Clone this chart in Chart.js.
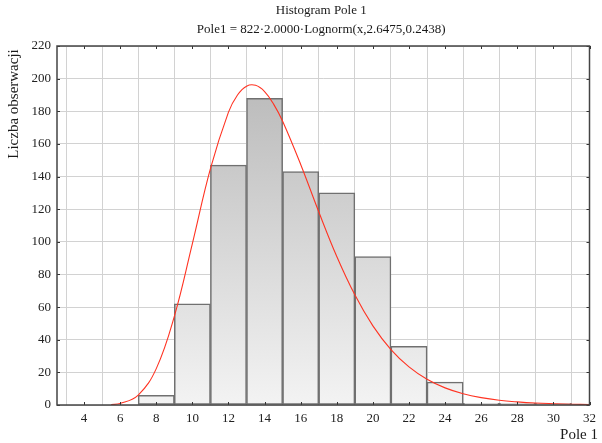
<!DOCTYPE html>
<html>
<head>
<meta charset="utf-8">
<script src="https://cdn.jsdelivr.net/npm/chart.js@4/dist/chart.umd.min.js"></script>
<style>
  html, body { margin: 0; padding: 0; background: #ffffff; }
  #wrap { width: 602px; height: 443px; position: relative; }
</style>
</head>
<body>
<div id="wrap"><canvas id="c" width="602" height="443"></canvas></div>
<script>
// Histogram bins (centres, width 2) and observed counts
const binCenters = [8, 10, 12, 14, 16, 18, 20, 22, 24, 26, 28, 30];
const binCounts  = [6, 62, 147, 188, 143, 130, 91, 36, 14, 1, 1, 1];

// Fitted log-normal curve, sampled along the x axis
const curveX = [5.5, 6, 7, 8, 9, 10, 11, 12, 12.5, 13, 13.5, 14, 14.5, 15, 16, 17, 18, 19, 20, 21, 22, 23, 24, 25, 26, 27, 28, 29, 30, 31, 32];
const curveY = [0.3, 0.9, 6.1, 22.3, 54.3, 98.9, 144.8, 179.5, 190.0, 195.4, 195.9, 192.1, 184.4, 173.9, 147.4, 118.4, 91.0, 67.5, 48.5, 34.0, 23.4, 15.8, 10.5, 6.9, 4.5, 2.9, 1.9, 1.2, 0.8, 0.5, 0.3];

// Axis ticks
const xTicks = [4, 6, 8, 10, 12, 14, 16, 18, 20, 22, 24, 26, 28, 30, 32];
const yTicks = [0, 20, 40, 60, 80, 100, 120, 140, 160, 180, 200, 220];

const titleLine1 = 'Histogram Pole 1';
const titleLine2 = 'Pole1 = 822\u00B72.0000\u00B7Lognorm(x,2.6475,0.2438)';
const yTitle = 'Liczba obserwacji';
const xTitle = 'Pole 1';

const SERIF = '"Liberation Serif", "Times New Roman", serif';

function barGradient(ctx) {
  const chart = ctx.chart;
  const area = chart.chartArea;
  if (!area) return '#dddddd';
  const g = chart.ctx.createLinearGradient(0, area.top, 0, area.bottom);
  g.addColorStop(0, '#b4b4b4');
  g.addColorStop(1, '#f3f3f3');
  return g;
}

// Frame, inward tick marks and texts around the plot
const decor = {
  id: 'decor',
  afterDatasetsDraw(chart) {
    const { ctx, chartArea: a, scales } = chart;
    ctx.save();
    ctx.strokeStyle = '#333333';
    ctx.lineWidth = 1;
    ctx.beginPath();
    xTicks.forEach(v => {
      const px = Math.round(scales.x.getPixelForValue(v)) + 0.5;
      ctx.moveTo(px, a.bottom); ctx.lineTo(px, a.bottom - 3);
      ctx.moveTo(px, a.top); ctx.lineTo(px, a.top + 3);
    });
    yTicks.forEach(v => {
      const py = Math.round(scales.y.getPixelForValue(v)) + 0.5;
      ctx.moveTo(a.left, py); ctx.lineTo(a.left + 3, py);
      ctx.moveTo(a.right, py); ctx.lineTo(a.right - 3, py);
    });
    ctx.stroke();
    ctx.strokeStyle = '#444444';
    ctx.lineWidth = 1.5;
    ctx.strokeRect(a.left, a.top, a.right - a.left, a.bottom - a.top);
    ctx.restore();
  },
  afterDraw(chart) {
    const { ctx, chartArea: a } = chart;
    ctx.save();
    ctx.fillStyle = '#1a1a1a';
    ctx.textAlign = 'center';
    ctx.textBaseline = 'middle';
    const cx = (a.left + a.right) / 2;
    ctx.font = '13px ' + SERIF;
    ctx.fillText(titleLine1, cx - 2, 11);
    ctx.fillText(titleLine2, cx - 2, 30);
    ctx.font = '15px ' + SERIF;
    ctx.textAlign = 'right';
    ctx.fillText(xTitle, 598, 435);
    ctx.translate(14, 104);
    ctx.rotate(-Math.PI / 2);
    ctx.textAlign = 'center';
    ctx.fillText(yTitle, 0, 0);
    ctx.restore();
  }
};

new Chart(document.getElementById('c'), {
  data: {
    datasets: [
      {
        type: 'line',
        label: 'Lognorm',
        data: curveX.map((x, i) => ({ x: x, y: curveY[i] })),
        borderColor: '#ff3322',
        borderWidth: 1.1,
        pointRadius: 0,
        tension: 0.4,
        fill: false,
        order: 0
      },
      {
        type: 'bar',
        label: 'Pole 1',
        data: binCenters.map((x, i) => ({ x: x, y: binCounts[i] })),
        backgroundColor: barGradient,
        borderColor: '#707070',
        borderWidth: 1.5,
        borderSkipped: false,
        barPercentage: 1.0,
        categoryPercentage: 1.0,
        order: 1
      }
    ]
  },
  options: {
    responsive: false,
    animation: false,
    devicePixelRatio: 1,
    layout: { padding: { top: 46, right: 8, left: 0, bottom: 0 } },
    plugins: {
      legend: { display: false },
      tooltip: { enabled: false },
      title: { display: false }
    },
    scales: {
      x: {
        type: 'linear',
        min: 2.5,
        max: 32,
        offset: false,
        afterBuildTicks: s => { s.ticks = xTicks.map(v => ({ value: v })); },
        afterFit: s => { s.height = 38; },
        grid: { color: '#d2d2d2', lineWidth: 1, drawTicks: false },
        border: { display: false },
        ticks: {
          padding: 6,
          color: '#222222',
          font: { family: SERIF, size: 13 },
          maxRotation: 0,
          autoSkip: false
        }
      },
      y: {
        min: 0,
        max: 220,
        afterBuildTicks: s => { s.ticks = yTicks.map(v => ({ value: v })); },
        afterFit: s => { s.width = 57; },
        grid: { color: '#d2d2d2', lineWidth: 1, drawTicks: false },
        border: { display: false },
        ticks: {
          padding: 6,
          color: '#222222',
          font: { family: SERIF, size: 13 }
        }
      }
    }
  },
  plugins: [decor]
});
</script>
</body>
</html>
